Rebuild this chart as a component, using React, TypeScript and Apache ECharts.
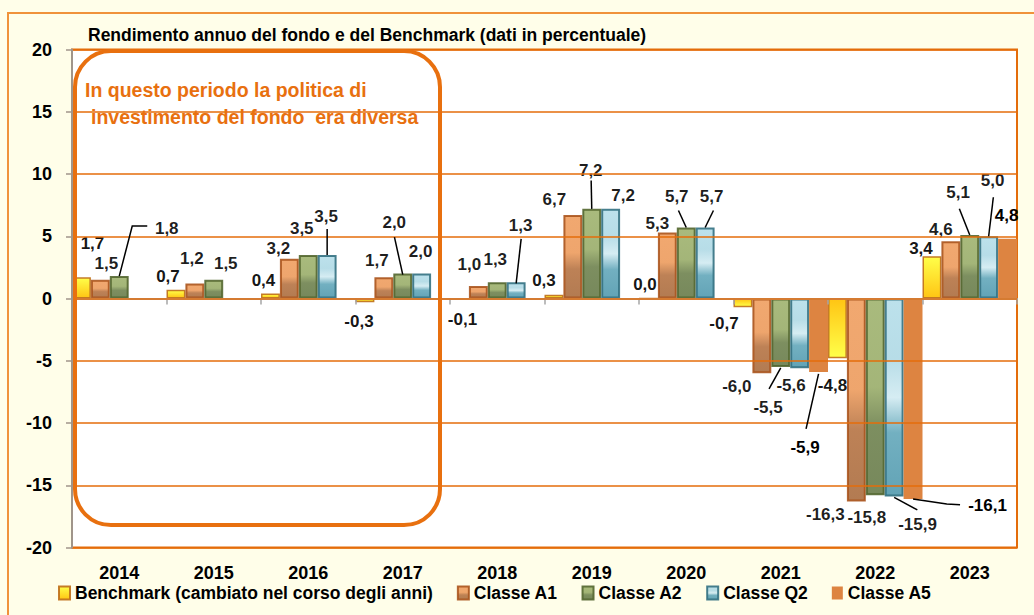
import React, { useEffect, useRef } from 'react';
import * as echarts from 'echarts';

// ---------- data ----------
const years = ['2014', '2015', '2016', '2017', '2018', '2019', '2020', '2021', '2022', '2023'];
const seriesNames = [
  'Benchmark (cambiato nel corso degli anni)',
  'Classe A1',
  'Classe A2',
  'Classe Q2',
  'Classe A5',
];
const benchmark = [1.7, 0.7, 0.4, -0.3, -0.1, 0.3, 0.0, -0.7, -4.8, 3.4];
const classeA1 = [1.5, 1.2, 3.2, 1.7, 1.0, 6.7, 5.3, -6.0, -16.3, 4.6];
const classeA2 = [1.8, 1.5, 3.5, 2.0, 1.3, 7.2, 5.7, -5.5, -15.8, 5.1];
const classeQ2 = [null, null, 3.5, 2.0, 1.3, 7.2, 5.7, -5.6, -15.9, 5.0];
const classeA5 = [null, null, null, null, null, null, null, -5.9, -16.1, 4.8];
const yMin = -20;
const yMax = 20;
const yStep = 5;
const titleText = 'Rendimento annuo del fondo e del Benchmark (dati in percentuale)';
const noteLines = ['In questo periodo la politica di', 'investimento del fondo  era diversa'];

// ---------- label layout (pixel offsets from default label spot) ----------
const labelOffsets: (number[] | null)[][] = [
  [[11, -20], [-8, 0], [-7, 0], [-6, 6], [3, 6], [-10, -1], [-3.5, 0], [-19, 2.5], [-5, 14], [-11, 6]],
  [[6, -3], [-3, -11.5], [-11, 3], [-7, -3], [-9, -8], [-18.5, -2], [-10, 4.5], [-25, 0], [-31, 0], [-10, 2]],
  [[47.5, -34], [12, -3], [-6.5, -13], [-8.5, -37.5], [-2, -9], [-1, -25], [-9.5, -18], [-12.7, 27], [-8.5, 9], [-11.7, -29]],
  [null, null, [-1, -25], [-1, -8.5], [4.5, -43], [12.5, 0], [6.5, -18], [-8.6, 4], [23.4, 15], [4, -42]],
  [null, null, null, null, null, null, null, [-13.5, 62], [74.5, -7], [-1, -10]],
];

// leader lines: series, category, points relative to bar tip
const leaderLines = [
  { s: 2, c: 0, pts: [[0, 0], [13, -50], [28, -50]] },
  { s: 3, c: 2, pts: [[0, 0], [0, -26]] },
  { s: 2, c: 3, pts: [[0, 1], [-8.3, -36.4]] },
  { s: 3, c: 4, pts: [[0, 1], [5, -43.5]] },
  { s: 2, c: 5, pts: [[0, 0], [-0.6, -28.4]] },
  { s: 2, c: 6, pts: [[0, 0], [-7.8, -17]] },
  { s: 3, c: 6, pts: [[0, 0], [8.3, -17]] },
  { s: 2, c: 7, pts: [[0, 1], [-11.7, 22]] },
  { s: 4, c: 7, pts: [[0, 2], [-12.5, 57]] },
  { s: 3, c: 8, pts: [[0, 1], [23.2, 13.5]] },
  { s: 4, c: 8, pts: [[0, 0], [33.7, 5], [47, 5.7]] },
  { s: 2, c: 9, pts: [[0, 0], [-10.4, -26.3]] },
  { s: 3, c: 9, pts: [[0, 0], [4.7, -39]] },
];

const FONT = "'Liberation Sans', Arial, sans-serif";
const ORANGE = '#E46C0A';

const vgrad = (stops: [number, string][]) =>
  new echarts.graphic.LinearGradient(
    0, 0, 0, 1,
    stops.map(([offset, color]) => ({ offset, color }))
  );

export default function App() {
  const ref = useRef<HTMLDivElement>(null);

  useEffect(() => {
    if (!ref.current) return;
    const chart = echarts.init(ref.current, undefined, { renderer: 'svg' });

    const styles: any[] = [
      {
        color: vgrad([[0, '#FFFF3A'], [1, '#FFC000']]),
        borderColor: '#C0711B',
        borderWidth: 1.5,
        opacity: 0.92,
      },
      {
        color: vgrad([[0, '#EF9C5C'], [0.45, '#EC9959'], [0.65, '#B4703F'], [1, '#A8693A']]),
        borderColor: '#A9521A',
        borderWidth: 2,
        opacity: 0.88,
      },
      {
        color: vgrad([[0, '#9DB16B'], [0.45, '#97AB66'], [0.65, '#6B7F4A'], [1, '#647845']]),
        borderColor: '#50632B',
        borderWidth: 2,
        opacity: 0.88,
      },
      {
        color: vgrad([[0, '#B3DDE9'], [0.3, '#ADD8E4'], [0.5, '#D0EAF1'], [0.68, '#5FA5B8'], [1, '#4D97AC']]),
        borderColor: '#2F6D7E',
        borderWidth: 2,
        opacity: 0.88,
      },
      { color: '#DD8441', borderWidth: 0, opacity: 1 },
    ];
    const negYellow = vgrad([[0, '#FFC000'], [1, '#FFFF3A']]);
    const allValues = [benchmark, classeA1, classeA2, classeQ2, classeA5];

    const fmt = (v: number) => v.toFixed(1).replace('.', ',');

    const series = allValues.map((vals, si) => ({
      name: seriesNames[si],
      type: 'bar',
      xAxisIndex: 0,
      yAxisIndex: 0,
      barGap: '0%',
      barCategoryGap: '0%',
      itemStyle: styles[si],
      data: vals.map((v, ci) => {
        if (v === null) return null;
        const off = labelOffsets[si][ci] || [0, 0];
        const item: any = {
          value: v,
          label: {
            show: true,
            position: v < 0 ? 'bottom' : 'top',
            offset: off,
          },
        };
        if (si === 0 && v < 0) item.itemStyle = { color: negYellow };
        return item;
      }),
      label: {
        show: true,
        formatter: (p: any) => fmt(p.value),
        color: '#000',
        fontFamily: FONT,
        fontWeight: 'bold',
        fontSize: 17,
        distance: 5,
      },
    }));

    const option: any = {
      animation: false,
      backgroundColor: '#FFFEE9',
      title: {
        text: titleText,
        left: 88,
        top: 25,
        padding: 0,
        textStyle: {
          fontFamily: FONT,
          fontWeight: 'bold',
          fontSize: 17.5,
          lineHeight: 20,
          color: '#000',
        },
      },
      legend: {
        left: 58,
        top: 584,
        padding: 0,
        itemGap: 24,
        itemWidth: 11,
        itemHeight: 13,
        icon: 'rect',
        data: seriesNames,
        textStyle: {
          fontFamily: FONT,
          fontWeight: 'bold',
          fontSize: 17.5,
          color: '#000',
        },
      },
      grid: {
        left: 72,
        right: 17,
        top: 49.5,
        bottom: 67.5,
        show: true,
        backgroundColor: '#FFFFFF',
        borderColor: ORANGE,
        borderWidth: 2,
      },
      xAxis: [
        {
          type: 'category',
          data: years,
          position: 'bottom',
          axisLine: { show: true, onZero: true, lineStyle: { color: '#A6A6A6', width: 2 } },
          axisTick: { show: true, length: 6, lineStyle: { color: '#A6A6A6', width: 1.5 } },
          axisLabel: { show: false },
          splitLine: { show: false },
          z: 5,
        },
        {
          type: 'category',
          data: years,
          position: 'bottom',
          axisLine: { show: false, onZero: false },
          axisTick: { show: false },
          axisLabel: {
            show: true,
            margin: 16,
            color: '#000',
            fontFamily: FONT,
            fontWeight: 'bold',
            fontSize: 18,
          },
          splitLine: { show: false },
        },
      ],
      yAxis: {
        type: 'value',
        min: yMin,
        max: yMax,
        interval: yStep,
        axisLine: { show: true, lineStyle: { color: '#A0958A', width: 2 } },
        axisTick: { show: true, length: 6, lineStyle: { color: '#A0958A', width: 1.5 } },
        axisLabel: {
          margin: 20,
          color: '#000',
          fontFamily: FONT,
          fontWeight: 'bold',
          fontSize: 18,
        },
        splitLine: { show: true, lineStyle: { color: ORANGE, width: 1.5 } },
        z: 6,
      },
      series,
    };

    chart.setOption(option);

    // ---- annotation graphics computed from axes ----
    const px = (c: number, v: number) =>
      chart.convertToPixel({ xAxisIndex: 0, yAxisIndex: 0 }, [c, v]) as number[];
    const c0 = px(0, 0);
    const c1 = px(1, 0);
    const band = c1[0] - c0[0];
    const bw = band / 5;
    const tip = (s: number, c: number) => {
      const v = allValues[s][c] as number;
      const p = px(c, v);
      return [p[0] + (s - 2) * bw, p[1]];
    };

    const graphics: any[] = [];
    graphics.push({
      type: 'rect',
      z: 0,
      silent: true,
      shape: { x: 8, y: 13, width: 1200, height: 800 },
      style: { fill: 'none', stroke: '#F0923A', lineWidth: 2 },
    });

    leaderLines.forEach((l) => {
      const t = tip(l.s, l.c);
      graphics.push({
        type: 'polyline',
        z: 20,
        silent: true,
        shape: { points: l.pts.map(([dx, dy]) => [t[0] + dx, t[1] + dy]) },
        style: { stroke: '#000', lineWidth: 1.5, fill: 'none' },
      });
    });

    const left = c0[0] - band / 2 + 3;
    const right = px(3, 0)[0] + band / 2 - 10;
    const top = px(0, yMax)[1] + 1.5;
    const bottom = px(0, -18.2)[1];
    graphics.push({
      type: 'rect',
      z: 15,
      silent: true,
      shape: { x: left, y: top, width: right - left, height: bottom - top, r: 36 },
      style: { fill: 'none', stroke: '#E8700F', lineWidth: 4 },
    });
    graphics.push({
      type: 'text',
      z: 16,
      silent: true,
      x: left + 10,
      y: top + 39,
      style: {
        text: noteLines[0],
        fill: '#E8700F',
        font: `bold 19.5px ${FONT}`,
        verticalAlign: 'middle',
      },
    });
    graphics.push({
      type: 'text',
      z: 16,
      silent: true,
      x: left + 16,
      y: top + 66,
      style: {
        text: noteLines[1],
        fill: '#E8700F',
        font: `bold 19.5px ${FONT}`,
        verticalAlign: 'middle',
      },
    });

    chart.setOption({ graphic: graphics });

    return () => {
      chart.dispose();
    };
  }, []);

  return (
    <div
      ref={ref}
      style={{ position: 'fixed', left: 0, top: 0, width: 1034, height: 615 }}
    />
  );
}
